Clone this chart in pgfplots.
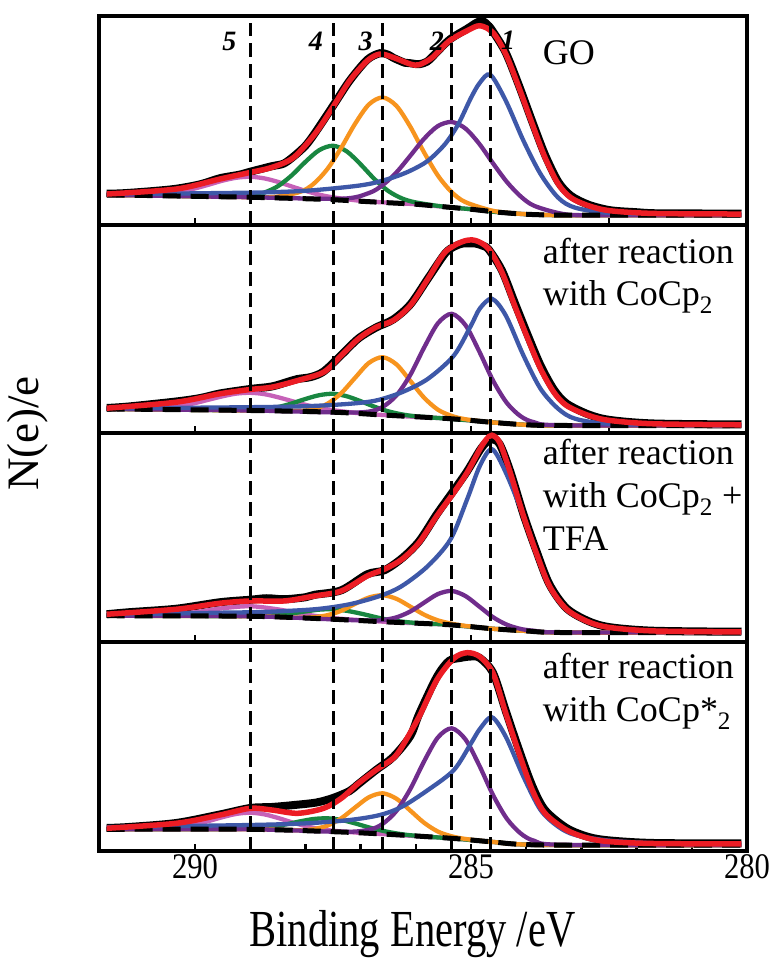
\documentclass[border=0pt]{standalone}
\usepackage{fontspec}
\setmainfont{Liberation Serif}
\usepackage{graphicx}
\usepackage{pgfplots}
\pgfplotsset{compat=1.18}
\definecolor{cblue}{RGB}{62,88,168}
\definecolor{cpurple}{RGB}{112,45,140}
\definecolor{corange}{RGB}{247,148,30}
\definecolor{cgreen}{RGB}{25,135,65}
\definecolor{cpink}{RGB}{198,98,184}
\definecolor{cred}{RGB}{236,28,36}
\newcommand{\sx}[1]{\scalebox{0.85}[1]{#1}}
\tikzset{
  lab/.style={anchor=base west, font=\fontsize{36}{36}\selectfont, inner sep=0pt},
  num/.style={anchor=base, font=\fontsize{28}{28}\selectfont\bfseries\itshape, inner sep=0pt},
}
\pgfplotsset{
  panel/.style={scale only axis, width=648pt, height=208.75pt,
    xmin=280, xmax=291.74, x dir=reverse, ymin=0, ymax=208.75,
    ytick=\empty, clip=false, anchor=south west,
    axis line style={line width=4pt},
    tick style={black, line width=2.5pt},
    major tick length=7pt, minor tick length=7pt,
    tick align=inside, xtick pos=left},
  inner/.style={xtick={282.5,285,287.5,290}, xticklabels={}},
  datap/.style={black, line width=8pt, smooth, no markers},
  comp/.style={line width=4.3pt, smooth, no markers},
  bgl/.style={black, line width=5pt, dash pattern=on 18pt off 10pt, smooth, no markers},
  fitl/.style={cred, line width=5.5pt, smooth, no markers},
  vl/.style={black, line width=3pt, dash pattern=on 14pt off 7pt, no markers},
}
\begin{document}
\begin{tikzpicture}
\useasboundingbox (0pt,0pt) rectangle (774pt,958pt);
% ---------------- Panel 1: GO ----------------
\begin{axis}[panel, inner, at={(99pt,733.25pt)}]
\addplot[datap] coordinates {(291.6,31) (291.3,31.5) (290.8,33.5) (290.34,36) (289.9,40.5) (289.55,46.5) (289.2,50) (289.0,53) (288.61,58.5) (288.4,61) (288.22,68) (288.0,79) (287.83,91.5) (287.51,118) (287.2,144) (286.88,165) (286.65,171.5) (286.5,170) (286.41,167) (286.2,162) (286.1,161.5) (285.94,160.5) (285.8,163) (285.7,168) (285.39,185) (285.07,196) (284.9,202) (284.8,204) (284.7,200) (284.6,193) (284.37,172) (284.13,139) (283.89,103) (283.66,70) (283.42,43) (283.19,29) (282.87,20) (282.48,14.5) (282.0,12.5) (281.69,11.5) (281.0,11.3) (280.1,11)};
\addplot[comp, cpink] coordinates {(291.6,29.9) (291,29.7) (290.5,31.3) (290.25,33.2) (290,36.3) (289.75,40.1) (289.5,44.1) (289.25,47.0) (289,48.0) (288.75,46.4) (288.5,42.9) (288.25,38.3) (288,33.9) (287.75,30.1) (287.5,27.4) (287,23.9) (286.5,22.05) (286,20.5) (285.5,18) (285,15.5) (284.5,12.5) (284,10.5) (283.5,9.6) (283,9.5) (280.1,9.5)};
\addplot[comp, cgreen] coordinates {(291.6,29.9) (290.5,28.9) (289.5,28.06) (289,29.3) (288.75,32.1) (288.5,38.5) (288.25,49.3) (288,62.9) (287.75,74.6) (287.5,79) (287.25,73.3) (287,60.4) (286.75,45.7) (286.5,33.8) (286.25,26.3) (286,22.3) (285.5,18.1) (285,15.5) (284.5,12.5) (284,10.5) (283.5,9.6) (283,9.5) (280.1,9.5)};
\addplot[comp, corange] coordinates {(291.6,29.9) (290.5,28.9) (289.5,27.96) (288.6,27.7) (288.1,32.8) (287.85,41.0) (287.6,55.9) (287.35,77.1) (287.1,101) (286.85,120.3) (286.6,127.3) (286.35,118.8) (286.1,98) (285.85,72.3) (285.6,49.2) (285.35,32.6) (285.1,22.6) (284.6,13.9) (284.1,10.9) (283.5,9.6) (283,9.5) (280.1,9.5)};
\addplot[comp, cpurple] coordinates {(291.6,29.9) (290,28.4) (289,27.5) (287.35,26.0) (286.85,31.7) (286.6,39.7) (286.35,52.4) (286.1,69.0) (285.85,86.0) (285.6,98.7) (285.35,102.75) (285.1,96.2) (284.85,80.9) (284.6,61.3) (284.35,42.8) (284.1,28.3) (283.85,18.8) (283.35,10.95) (282.85,9.5) (280.1,9.5)};
\addplot[comp, cblue] coordinates {(291.6,30.6) (290.34,31.2) (289.55,31.7) (288.77,32.3) (287.98,34) (287.2,38) (286.8,41.3) (286.41,47.3) (286.1,54) (285.78,64) (285.47,80.7) (285.23,100.7) (285.0,127) (284.84,142) (284.65,150) (284.37,124) (284.05,84) (283.74,50.7) (283.42,27) (283.11,17) (282.48,11.7) (281.5,10.6) (280.1,10.2)};
\addplot[bgl] coordinates {(291.6,29.9) (290.5,28.9) (289.5,27.96) (289,27.5) (288,26) (287.5,25) (287,23.5) (286.5,22) (286,20.5) (285.5,18) (285,15.5) (284.5,12.5) (284,10.5) (283.5,9.6) (283,9.5) (280.1,9.5)};
\addplot[fitl] coordinates {(291.6,30.7) (290.34,35.7) (289.55,45.7) (289.0,52.3) (288.61,57.3) (288.22,67) (287.83,90.7) (287.51,117) (287.2,144) (286.88,164) (286.65,170.7) (286.41,167.3) (286.1,160.7) (285.94,160) (285.7,167.3) (285.39,184) (285.07,194) (284.84,199) (284.6,192) (284.37,170.7) (284.13,137) (283.89,100.7) (283.66,67.3) (283.42,40.7) (283.19,27) (282.87,19) (282.48,14) (281.69,11.3) (280.1,10.7)};
\addplot[vl] coordinates {(289.0,0) (289.0,202)};
\addplot[vl] coordinates {(287.5,0) (287.5,202)};
\addplot[vl] coordinates {(286.6,0) (286.6,202)};
\addplot[vl] coordinates {(285.35,0) (285.35,202)};
\addplot[vl] coordinates {(284.65,0) (284.65,202)};
\node[num] at (axis cs:289.38,174) {5};
\node[num] at (axis cs:287.81,174) {4};
\node[num] at (axis cs:286.91,174) {3};
\node[num] at (axis cs:285.62,174) {2};
\node[num] at (axis cs:284.33,175.5) {1};
\node[lab] at (axis cs:283.70,160.7) {GO};
\end{axis}
% ---------------- Panel 2: CoCp2 ----------------
\begin{axis}[panel, inner, at={(99pt,524.5pt)}]
\addplot[datap] coordinates {(291.6,25.5) (291.2,27) (290.34,32) (289.9,35.5) (289.55,40) (289.0,44.5) (288.61,47) (288.3,52) (288.14,54.5) (287.9,56.5) (287.67,62) (287.35,78.5) (287.04,95) (286.72,106) (286.41,114) (286.1,129) (285.78,155) (285.47,180) (285.3,187) (285.15,190) (285.0,190) (284.92,190) (284.8,188) (284.68,184) (284.44,163) (284.21,131) (283.97,98) (283.74,68) (283.5,44) (283.27,30) (282.87,19) (282.48,13.5) (281.69,10) (280.1,9)};
\addplot[comp, cpink] coordinates {(291.6,24.6) (291,24.6) (290.5,25.9) (290.25,27.7) (290,30.4) (289.75,33.8) (289.5,37.2) (289.25,39.9) (289,40.7) (288.75,39.4) (288.5,36.3) (288.25,32.5) (288,28.7) (287.75,25.6) (287.5,23.3) (287,20.1) (286.5,18.2) (286,16.6) (285.35,14.7) (284.65,11.3) (284,8.7) (283.3,8) (280.1,8)};
\addplot[comp, cgreen] coordinates {(291.6,24.6) (289.5,23.3) (289,23.6) (288.75,24.4) (288.5,26.4) (288.25,30) (288,34.5) (287.75,38.3) (287.5,39.7) (287.25,37.2) (287,32.3) (286.75,26.8) (286.5,22.2) (286.25,19.1) (286,17.2) (285.5,15.1) (285,13) (284.65,11.3) (284,8.7) (283.3,8) (280.1,8)};
\addplot[comp, corange] coordinates {(291.6,24.6) (289,23) (288.1,22.75) (287.85,24.6) (287.6,29.8) (287.35,40.4) (287.1,55.7) (286.85,70.6) (286.6,76.3) (286.35,69.05) (286.1,52.6) (285.85,35.8) (285.6,23.8) (285.35,17.6) (285.1,14.25) (284.65,11.3) (284,8.7) (283.3,8) (280.1,8)};
\addplot[comp, cpurple] coordinates {(291.6,24.6) (289,23) (287.35,20.95) (286.85,21.9) (286.6,26.6) (286.35,38.15) (286.1,58.6) (285.85,85.9) (285.6,110.2) (285.35,119.7) (285.1,108.3) (284.85,82) (284.6,52.8) (284.35,30.5) (284.1,17.2) (283.85,11.15) (283.35,8.2) (280.1,8)};
\addplot[comp, cblue] coordinates {(291.6,25.2) (291.13,25.3) (289.0,26.3) (287.98,27.3) (287.2,29.7) (286.72,33) (286.25,41.3) (285.78,54.7) (285.31,78) (285.0,108) (284.84,125) (284.62,134.7) (284.37,118) (284.05,78) (283.74,44.7) (283.42,24.7) (283.11,14.7) (282.48,9.7) (281,8.5) (280.1,8.3)};
\addplot[bgl] coordinates {(291.6,24.6) (289,23) (287.5,21.3) (286.6,18.5) (285.35,14.7) (284.65,11.3) (284,8.7) (283.3,8) (280.1,8)};
\addplot[fitl] coordinates {(291.6,25.3) (290.34,31.3) (289.55,39.7) (289.0,44) (288.61,46.3) (288.14,53) (287.67,61.3) (287.35,78) (287.04,94.7) (286.72,106.3) (286.41,113) (286.1,128) (285.78,154.7) (285.47,181.3) (285.15,192) (284.92,193) (284.68,184.7) (284.44,161.3) (284.21,128) (283.97,94.7) (283.74,64.7) (283.5,41.3) (283.27,28) (282.87,18) (282.48,13) (281.69,9.7) (280.1,8.7)};
\addplot[vl] coordinates {(289.0,0) (289.0,208.75)};
\addplot[vl] coordinates {(287.5,0) (287.5,208.75)};
\addplot[vl] coordinates {(286.6,0) (286.6,208.75)};
\addplot[vl] coordinates {(285.35,0) (285.35,208.75)};
\addplot[vl] coordinates {(284.65,0) (284.65,208.75)};
\node[lab] at (axis cs:283.70,169.7) {after reaction};
\node[lab] at (axis cs:283.70,128) {with CoCp\textsubscript{2}};
\end{axis}
% ---------------- Panel 3: CoCp2 + TFA ----------------
\begin{axis}[panel, inner, at={(99pt,315.75pt)}]
\addplot[datap] coordinates {(291.6,28) (291.2,30) (290.34,33.5) (289.55,40) (289.0,42.5) (288.7,44) (288.38,43) (288.0,45) (287.83,47.5) (287.35,52) (286.88,68) (286.57,72) (286.25,84) (285.94,101) (285.62,128) (285.31,152) (285.07,171) (284.84,192) (284.72,200) (284.62,203) (284.48,198) (284.29,171) (284.05,128) (283.82,92) (283.58,58) (283.27,34) (282.87,21) (282.48,15) (281.69,11.5) (280.1,10.5)};
\addplot[comp, cpink] coordinates {(291.6,26.5) (291,26.6) (290.5,27.4) (290,30) (289.5,34) (289,36) (288.5,32.9) (288,27.8) (287.5,24.15) (287,22.1) (286.5,20.25) (286,19) (285.4,17.5) (284.65,13.7) (284,11.3) (283.3,9.7) (280.1,9.7)};
\addplot[comp, cgreen] coordinates {(291.6,26.5) (289.5,26.1) (289,26.3) (288.5,27.2) (288,30.8) (287.75,32.6) (287.5,33) (287.25,31.4) (287,28.7) (286.5,22.45) (286,19.3) (285.4,17.5) (284.65,13.7) (284,11.3) (283.3,9.7) (280.1,9.7)};
\addplot[comp, corange] coordinates {(291.6,26.5) (289,26) (288.1,24.55) (287.85,25) (287.6,27.1) (287.35,31.5) (287.1,38.4) (286.85,44.7) (286.6,47) (286.35,43.4) (286.1,35.65) (285.85,27.6) (285.6,21.9) (285.35,18.55) (285.1,16.35) (284.65,13.7) (284,11.3) (283.3,9.7) (280.1,9.7)};
\addplot[comp, cpurple] coordinates {(291.6,26.5) (289,26) (287.35,22.5) (286.85,21.65) (286.6,22.2) (286.35,24.9) (286.1,30.75) (285.85,39.6) (285.6,48.2) (285.35,51.3) (285.1,46.2) (284.85,35.7) (284.6,25) (284.35,17.55) (284.1,13.3) (283.85,11.45) (283.35,9.8) (280.1,9.7)};
\addplot[comp, cblue] coordinates {(291.6,27.8) (291.13,28) (289.6,29.5) (288.77,30.3) (287.83,33) (287.2,38) (286.65,46.3) (286.25,56.3) (285.78,76.3) (285.37,103) (285.07,143) (284.84,176.3) (284.62,193) (284.37,169.7) (284.05,126.3) (283.82,89.7) (283.58,56.3) (283.27,33) (282.87,20) (282.48,14.5) (281.69,11.3) (280.1,10.3)};
\addplot[bgl] coordinates {(291.6,26.5) (289,26) (287.5,23) (286.6,20.5) (285.4,17.5) (284.65,13.7) (284,11.3) (283.3,9.7) (280.1,9.7)};
\addplot[fitl] coordinates {(291.6,28) (290.34,33) (289.55,39) (289.0,41.3) (288.38,41.3) (287.83,46.3) (287.35,51.3) (286.88,66.3) (286.57,73) (286.25,83) (285.94,99.7) (285.62,126.3) (285.31,149.7) (285.07,169.7) (284.84,193) (284.72,203) (284.62,207) (284.48,199.7) (284.29,169.7) (284.05,126.3) (283.82,89.7) (283.58,56.3) (283.27,33) (282.87,20.3) (282.48,14.7) (281.69,11.3) (280.1,10.3)};
\addplot[vl] coordinates {(289.0,0) (289.0,208.75)};
\addplot[vl] coordinates {(287.5,0) (287.5,208.75)};
\addplot[vl] coordinates {(286.6,0) (286.6,208.75)};
\addplot[vl] coordinates {(285.35,0) (285.35,208.75)};
\addplot[vl] coordinates {(284.65,0) (284.65,208.75)};
\node[lab] at (axis cs:283.70,178) {after reaction};
\node[lab] at (axis cs:283.70,134.7) {with CoCp\textsubscript{2} +};
\node[lab] at (axis cs:283.70,91.3) {TFA};
\end{axis}
% ---------------- Panel 4: CoCp*2 ----------------
\begin{axis}[panel, at={(99pt,107pt)},
  xtick={280,285,290}, minor xtick={281,282,283,284,286,287,288,289},
  xticklabels={\sx{280},\sx{285},\sx{290}},
  xticklabel style={font=\fontsize{36}{36}\selectfont},
  xlabel={\scalebox{0.78}[1]{Binding Energy /eV}},
  xlabel style={font=\fontsize{52}{52}\selectfont, at={(axis description cs:0.4838,0)}, anchor=base, yshift=-95pt},
  ylabel={N(e)/e},
  ylabel style={font=\fontsize{45}{45}\selectfont, at={(axis description cs:-0.1103,2)}, anchor=center}]
\addplot[datap] coordinates {(291.6,23) (291.2,24) (290.34,28) (289.55,36.5) (289.0,43) (288.61,44) (288.2,46) (287.8,48.5) (287.5,53) (287.2,60) (287.04,67) (286.72,81) (286.41,94) (286.1,115) (285.94,137) (285.62,174) (285.4,190) (285.2,193) (285.0,194.5) (284.84,193) (284.6,178) (284.37,140) (284.13,101) (283.89,65) (283.66,41) (283.27,23) (282.87,14) (282.48,10.5) (281.69,8) (280.1,7.5)};
\addplot[comp, cpink] coordinates {(291.6,21.7) (291,21.8) (290.5,22.7) (290.25,24.1) (290,26.55) (289.75,30) (289.5,33.9) (289.25,37.1) (289,38.3) (288.75,36.7) (288.5,33.1) (288.25,28.8) (288,24.95) (287.75,22.1) (287.5,20.3) (287,18.1) (286.5,16.65) (286,14.9) (285.35,12.7) (284.65,9.3) (283.7,6) (280.1,6)};
\addplot[comp, cgreen] coordinates {(291.6,21.7) (289.6,21.75) (289.1,22.25) (288.85,22.85) (288.6,24.3) (288.35,26.65) (288.1,29.6) (287.85,32.0) (287.6,32.7) (287.35,31.05) (287.1,27.6) (286.85,23.6) (286.6,20.2) (286.35,17.6) (286.1,15.75) (285.6,13.55) (285.35,12.7) (284.65,9.3) (283.7,6) (280.1,6)};
\addplot[comp, corange] coordinates {(291.6,21.7) (289,21.7) (288.1,20.8) (287.85,21.9) (287.6,25.4) (287.35,32.75) (287.1,43.5) (286.85,53.75) (286.6,57.7) (286.35,52.25) (286.1,40.4) (285.85,28.25) (285.6,19.45) (285.35,14.7) (285.1,12.05) (284.65,9.3) (283.7,6) (280.1,6)};
\addplot[comp, cpurple] coordinates {(291.6,21.7) (289,21.7) (287.35,19.15) (286.85,21.25) (286.6,27.2) (286.35,40.15) (286.1,61.95) (285.85,89.65) (285.6,113.55) (285.35,122.7) (285.1,111.55) (284.85,85.55) (284.6,55.85) (284.35,32.25) (284.1,17.55) (283.85,10.1) (283.35,6.2) (280.1,6)};
\addplot[comp, cblue] coordinates {(291.6,23.8) (291.13,24.3) (289.0,26) (287.98,27.7) (287.2,31) (286.65,36) (286.25,44.3) (285.78,61) (285.31,81) (285.0,107.7) (284.84,122) (284.62,133.7) (284.37,114.3) (284.05,74.3) (283.74,41) (283.42,24.3) (283.11,16) (282.48,10.3) (281.5,7.5) (280.1,7)};
\addplot[bgl] coordinates {(291.6,21.7) (289,21.7) (287.5,19.3) (286.6,17) (285.35,12.7) (284.65,9.3) (283.7,6) (280.1,6)};
\addplot[fitl] coordinates {(291.6,22.7) (290.34,27.7) (289.55,36) (289.0,42.7) (288.61,41) (288.14,37.7) (287.67,42.7) (287.35,52.7) (287.04,67.7) (286.72,81) (286.41,92.7) (286.25,104.3) (285.94,134.3) (285.62,171) (285.31,192.7) (285.07,198.3) (284.84,194.3) (284.6,177.7) (284.37,137.7) (284.13,97.7) (283.89,61) (283.66,37.7) (283.27,21) (282.87,12.7) (282.48,9.3) (281.69,7.5) (280.1,7)};
\addplot[vl] coordinates {(289.0,0) (289.0,208.75)};
\addplot[vl] coordinates {(287.5,0) (287.5,208.75)};
\addplot[vl] coordinates {(286.6,0) (286.6,208.75)};
\addplot[vl] coordinates {(285.35,0) (285.35,208.75)};
\addplot[vl] coordinates {(284.65,0) (284.65,208.75)};
\node[lab] at (axis cs:283.70,172.7) {after reaction};
\node[lab] at (axis cs:283.70,129.3) {with CoCp*\textsubscript{2}};
\end{axis}
\end{tikzpicture}
\end{document}
